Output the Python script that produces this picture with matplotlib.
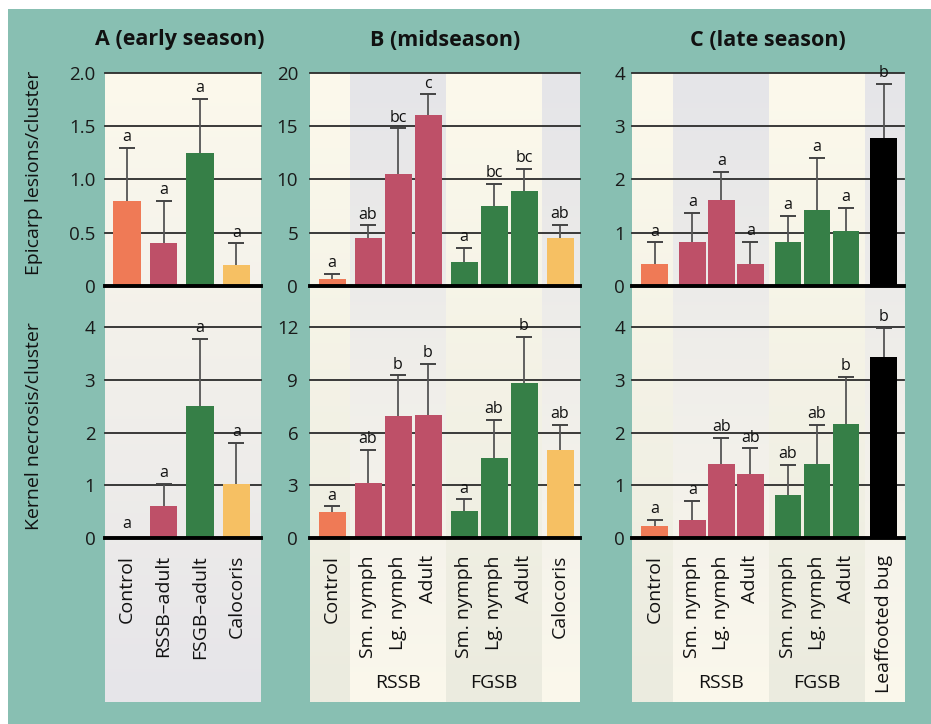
import numpy as np
import matplotlib.pyplot as plt
from matplotlib.patches import Rectangle
from matplotlib.colors import to_rgb
import matplotlib.transforms as mtransforms

plt.rcParams['font.family'] = ['Open Sans', 'DejaVu Sans']

W, H = 931, 724

# ---------------- data ----------------
a_labels = ['Control', 'RSSB–adult', 'FSGB–adult', 'Calocoris']
a_kind = ['control', 'rssb', 'fgsb', 'calo']
a_epi = [0.8, 0.4, 1.25, 0.2]
a_epi_se = [0.5, 0.4, 0.51, 0.2]
a_epi_let = ['a', 'a', 'a', 'a']
a_ker = [0.0, 0.6, 2.5, 1.02]
a_ker_se = [0.0, 0.42, 1.27, 0.78]
a_ker_let = ['a', 'a', 'a', 'a']

b_labels = ['Control', 'Sm. nymph', 'Lg. nymph', 'Adult',
            'Sm. nymph', 'Lg. nymph', 'Adult', 'Calocoris']
b_kind = ['control', 'rssb', 'rssb', 'rssb', 'fgsb', 'fgsb', 'fgsb', 'calo']
b_epi = [0.65, 4.5, 10.5, 16.1, 2.3, 7.55, 8.95, 4.5]
b_epi_se = [0.5, 1.2, 4.3, 1.9, 1.25, 2.05, 2.05, 1.25]
b_epi_let = ['a', 'ab', 'bc', 'c', 'a', 'bc', 'bc', 'ab']
b_ker = [1.5, 3.1, 6.95, 7.0, 1.55, 4.55, 8.8, 5.0]
b_ker_se = [0.3, 1.9, 2.3, 2.9, 0.65, 2.15, 2.65, 1.45]
b_ker_let = ['a', 'ab', 'b', 'b', 'a', 'ab', 'b', 'ab']

c_labels = ['Control', 'Sm. nymph', 'Lg. nymph', 'Adult',
            'Sm. nymph', 'Lg. nymph', 'Adult', 'Leaffooted bug']
c_kind = ['control', 'rssb', 'rssb', 'rssb', 'fgsb', 'fgsb', 'fgsb', 'lfb']
c_epi = [0.42, 0.82, 1.62, 0.42, 0.82, 1.42, 1.03, 2.77]
c_epi_se = [0.4, 0.56, 0.52, 0.41, 0.5, 0.98, 0.44, 1.03]
c_epi_let = ['a', 'a', 'a', 'a', 'a', 'a', 'a', 'b']
c_ker = [0.22, 0.35, 1.41, 1.22, 0.82, 1.41, 2.17, 3.43]
c_ker_se = [0.13, 0.35, 0.49, 0.48, 0.56, 0.74, 0.88, 0.55]
c_ker_let = ['a', 'a', 'ab', 'ab', 'ab', 'ab', 'b', 'b']

group_names = ['RSSB', 'FGSB']

epi_ticks = {'A': [0, 0.5, 1.0, 1.5, 2.0], 'B': [0, 5, 10, 15, 20], 'C': [0, 1, 2, 3, 4]}
epi_ticklabels = {'A': ['0', '0.5', '1.0', '1.5', '2.0'], 'B': ['0', '5', '10', '15', '20'],
                  'C': ['0', '1', '2', '3', '4']}
ker_ticks = {'A': [0, 1, 2, 3, 4], 'B': [0, 3, 6, 9, 12], 'C': [0, 1, 2, 3, 4]}

titles = {'A': 'A (early season)', 'B': 'B (midseason)', 'C': 'C (late season)'}

colors = {'control': '#EF7A56', 'rssb': '#BE5068', 'fgsb': '#367F47',
          'calo': '#F6C063', 'lfb': '#000000'}

# ---------------- layout helpers ----------------
fig = plt.figure(figsize=(W / 100, H / 100), dpi=100)
fig.patch.set_facecolor('white')
fig.add_artist(Rectangle((8 / W, 0), 1, 1 - 9 / H, transform=fig.transFigure,
                         facecolor='#88BFB2', edgecolor='none', zorder=-10))


def rect(x0, y0, x1, y1):
    return [x0 / W, 1 - y1 / H, (x1 - x0) / W, (y1 - y0) / H]


def positions(kinds, gap):
    pos, p, prev = [], 0.0, None
    for i, k in enumerate(kinds):
        if i > 0:
            p += 1.0 + (gap if k != prev else 0.0)
        pos.append(p)
        prev = k
    return np.array(pos)


def gradient(ax, xa, xb, top, bot):
    t = np.linspace(0, 1, 200)[:, None]
    c0, c1 = np.array(to_rgb(top)), np.array(to_rgb(bot))
    img = (c0[None, :] * (1 - t) + c1[None, :] * t)[:, None, :]
    ax.imshow(img, extent=[xa, xb, 0, 1], aspect='auto', origin='upper',
              interpolation='bilinear', zorder=0)


CREAM_TOP = ('#FCF9EC', '#EBEBDF')
GRAY_TOP = ('#E5E5E8', '#FBF8EC')

TOP_Y = (73, 286)
BOT_Y = (327, 538)
BG_Y = (73, 702)


def draw_bars(ax, pos, vals, se, lets, kinds, width):
    for x, v, e, l, k in zip(pos, vals, se, lets, kinds):
        ax.bar(x, v, width=width, color=colors[k], zorder=2)
        if e > 0:
            ax.vlines(x, v, v + e, color='#555555', lw=1.3, zorder=2.5)
            ax.plot([x], [v + e], marker='_', markersize=12, mew=1.4,
                    color='#444444', zorder=2.6, clip_on=False)
        ax.annotate(l, (x, v + e), xytext=(0, 2 if e > 0 else 4),
                    textcoords='offset points', ha='center', va='bottom',
                    fontsize=11.5, color='#111111', zorder=4, annotation_clip=False)


def style_axis(ax, ticks, ticklabels, xlim, pad):
    ax.set_facecolor('none')
    for s in ax.spines.values():
        s.set_visible(False)
    ax.set_xlim(*xlim)
    ax.set_ylim(ticks[0], ticks[-1])
    ax.set_xticks([])
    ax.set_yticks(ticks)
    ax.set_yticklabels(ticklabels, fontsize=13.5, color='#1a1a1a')
    ax.tick_params(axis='y', length=0, pad=pad)
    for t in ticks[1:]:
        ax.axhline(t, color='#2b2b2b', lw=1.3, zorder=1, clip_on=False)
    ax.axhline(0, color='black', lw=2.8, zorder=3, clip_on=False)


panels = [
    dict(name='A', x0=105, x1=261, unit=36.5, first=127, width=0.75, gap=0.0, pad=7,
         labels=a_labels, kinds=a_kind, epi=a_epi, epi_se=a_epi_se, epi_let=a_epi_let,
         ker=a_ker, ker_se=a_ker_se, ker_let=a_ker_let, tx=180),
    dict(name='B', x0=310, x1=580, unit=30, first=332, width=0.9, gap=0.2, pad=8.5,
         labels=b_labels, kinds=b_kind, epi=b_epi, epi_se=b_epi_se, epi_let=b_epi_let,
         ker=b_ker, ker_se=b_ker_se, ker_let=b_ker_let, tx=445),
    dict(name='C', x0=632, x1=904, unit=29, first=654.5, width=0.92, gap=0.3, pad=5,
         labels=c_labels, kinds=c_kind, epi=c_epi, epi_se=c_epi_se, epi_let=c_epi_let,
         ker=c_ker, ker_se=c_ker_se, ker_let=c_ker_let, tx=768),
]

for P in panels:
    xlim = ((P['x0'] - P['first']) / P['unit'], (P['x1'] - P['first']) / P['unit'])
    if P['name'] == 'A':
        pos = np.arange(len(P['kinds']), dtype=float)
    else:
        pos = positions(P['kinds'], P['gap'])

    # background
    axbg = fig.add_axes(rect(P['x0'], BG_Y[0], P['x1'], BG_Y[1]), zorder=0)
    axbg.set_xlim(*xlim)
    axbg.set_ylim(0, 1)
    axbg.axis('off')
    if P['name'] == 'A':
        gradient(axbg, xlim[0], xlim[1], '#FCF9EC', '#E6E5E9')
    else:
        bounds = [xlim[0]]
        for i in range(1, len(pos)):
            if P['kinds'][i] != P['kinds'][i - 1]:
                bounds.append((pos[i] + pos[i - 1]) / 2)
        bounds.append(xlim[1])
        for j in range(len(bounds) - 1):
            top, bot = CREAM_TOP if j % 2 == 0 else GRAY_TOP
            gradient(axbg, bounds[j], bounds[j + 1], top, bot)
        axbg.set_xlim(*xlim)
        axbg.set_ylim(0, 1)

    # top axis
    axt = fig.add_axes(rect(P['x0'], TOP_Y[0], P['x1'], TOP_Y[1]), zorder=1)
    style_axis(axt, epi_ticks[P['name']], epi_ticklabels[P['name']], xlim, P['pad'])
    draw_bars(axt, pos, P['epi'], P['epi_se'], P['epi_let'], P['kinds'], P['width'])

    # bottom axis
    axb = fig.add_axes(rect(P['x0'], BOT_Y[0], P['x1'], BOT_Y[1]), zorder=1)
    kt = ker_ticks[P['name']]
    style_axis(axb, kt, [str(t) for t in kt], xlim, P['pad'])
    draw_bars(axb, pos, P['ker'], P['ker_se'], P['ker_let'], P['kinds'], P['width'])

    # category labels
    tr = mtransforms.blended_transform_factory(axb.transData, fig.transFigure)
    for x, lab in zip(pos, P['labels']):
        axb.text(x, 1 - 555 / H, lab, transform=tr, rotation=90, ha='center',
                 va='top', fontsize=14, color='#111111', clip_on=False)
    if P['name'] != 'A':
        for g in group_names:
            key = 'rssb' if g == 'RSSB' else 'fgsb'
            gp = [x for x, k in zip(pos, P['kinds']) if k == key]
            axb.text(np.mean(gp), 1 - 683 / H, g, transform=tr, ha='center',
                     va='center', fontsize=14, color='#111111', clip_on=False)

    fig.text(P['tx'] / W, 1 - 40 / H, titles[P['name']], ha='center', va='center',
             fontsize=15.5, fontweight='bold', color='#111111')

fig.text(34 / W, 1 - 173 / H, 'Epicarp lesions/cluster', rotation=90, ha='center',
         va='center', fontsize=14, color='#111111')
fig.text(34 / W, 1 - 426 / H, 'Kernel necrosis/cluster', rotation=90, ha='center',
         va='center', fontsize=14, color='#111111')

fig.savefig('out.png', dpi=100, facecolor=fig.get_facecolor())
